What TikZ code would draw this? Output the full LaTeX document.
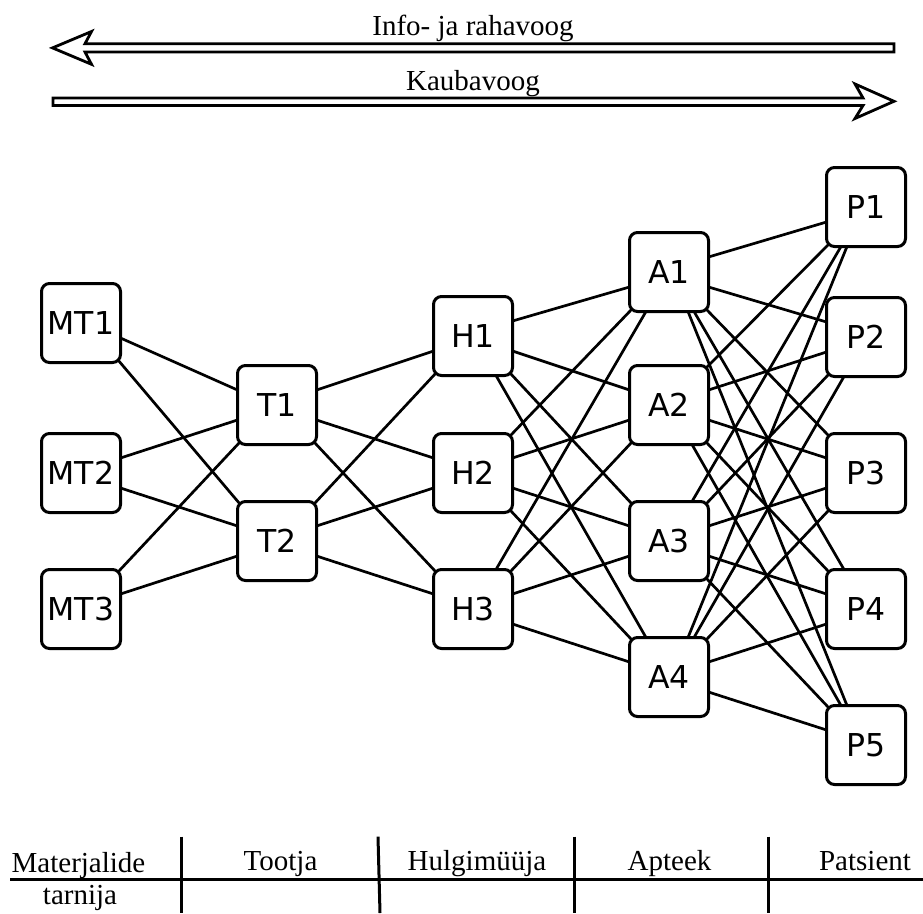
\documentclass[tikz,border=0pt]{standalone}
\usepackage{fontspec}
\setmainfont{Liberation Serif}
\newfontfamily\boxfont{DejaVu Sans}
\begin{document}
\begin{tikzpicture}[x=1pt,y=-1pt,
  box/.style={draw,line width=3pt,rounded corners=8pt,minimum width=79pt,minimum height=79pt,
    inner sep=0pt,outer sep=0pt,font=\boxfont\fontsize{31.5}{31.5}\selectfont},
  link/.style={line width=2.7pt},
  flow/.style={line width=2.8pt,line join=miter},
  lbl/.style={font=\fontsize{29}{29}\selectfont,anchor=base,inner sep=0pt},
  rule/.style={line width=3pt}]
\useasboundingbox (0,0) rectangle (923,913);
% nodes
\node[box] (MT1) at (81,323) {MT1};
\node[box] (MT2) at (81,473) {MT2};
\node[box] (MT3) at (81,609) {MT3};
\node[box] (T1) at (277,405) {T1};
\node[box] (T2) at (277,541) {T2};
\node[box] (H1) at (473,336) {H1};
\node[box] (H2) at (473,473) {H2};
\node[box] (H3) at (473,609) {H3};
\node[box] (A1) at (669,272) {A1};
\node[box] (A2) at (669,405) {A2};
\node[box] (A3) at (669,541) {A3};
\node[box] (A4) at (669,677) {A4};
\node[box] (P1) at (866,207) {P1};
\node[box] (P2) at (866,337) {P2};
\node[box] (P3) at (866,473) {P3};
\node[box] (P4) at (866,609) {P4};
\node[box] (P5) at (866,745) {P5};
% MT -> T
\draw[link] ([yshift=-15pt]MT1.east) -- ([yshift=15pt]T1.west);
\draw[link] ([xshift=-2.3pt,yshift=2.3pt]MT1.south east) -- ([xshift=2.3pt,yshift=-2.3pt]T2.north west);
\draw[link] ([yshift=15pt]MT2.east) -- ([yshift=-15pt]T1.west);
\draw[link] ([yshift=-15pt]MT2.east) -- ([yshift=15pt]T2.west);
\draw[link] ([xshift=-2.3pt,yshift=-2.3pt]MT3.north east) -- ([xshift=2.3pt,yshift=2.3pt]T1.south west);
\draw[link] ([yshift=15pt]MT3.east) -- ([yshift=-15pt]T2.west);
% T -> H
\draw[link] ([yshift=15pt]T1.east) -- ([yshift=-15pt]H1.west);
\draw[link] ([yshift=-15pt]T1.east) -- ([yshift=15pt]H2.west);
\draw[link] ([xshift=-2.3pt,yshift=2.3pt]T1.south east) -- ([xshift=2.3pt,yshift=-2.3pt]H3.north west);
\draw[link] ([xshift=-2.3pt,yshift=-2.3pt]T2.north east) -- ([xshift=2.3pt,yshift=2.3pt]H1.south west);
\draw[link] ([yshift=15pt]T2.east) -- ([yshift=-15pt]H2.west);
\draw[link] ([yshift=-15pt]T2.east) -- ([yshift=15pt]H3.west);
% H -> A
\draw[link] ([yshift=15pt]H1.east) -- ([yshift=-15pt]A1.west);
\draw[link] ([yshift=-15pt]H1.east) -- ([yshift=15pt]A2.west);
\draw[link] ([xshift=-2.3pt,yshift=2.3pt]H1.south east) -- ([xshift=2.3pt,yshift=-2.3pt]A3.north west);
\draw[link] ([xshift=23pt]H1.south) -- ([xshift=-23pt]A4.north);
\draw[link] ([xshift=-2.3pt,yshift=-2.3pt]H2.north east) -- ([xshift=2.3pt,yshift=2.3pt]A1.south west);
\draw[link] ([yshift=15pt]H2.east) -- ([yshift=-15pt]A2.west);
\draw[link] ([yshift=-15pt]H2.east) -- ([yshift=15pt]A3.west);
\draw[link] ([xshift=-2.3pt,yshift=2.3pt]H2.south east) -- ([xshift=2.3pt,yshift=-2.3pt]A4.north west);
\draw[link] ([xshift=23pt]H3.north) -- ([xshift=-23pt]A1.south);
\draw[link] ([xshift=-2.3pt,yshift=-2.3pt]H3.north east) -- ([xshift=2.3pt,yshift=2.3pt]A2.south west);
\draw[link] ([yshift=15pt]H3.east) -- ([yshift=-15pt]A3.west);
\draw[link] ([yshift=-15pt]H3.east) -- ([yshift=15pt]A4.west);
% A -> P
\draw[link] ([yshift=15pt]A1.east) -- ([yshift=-15pt]P1.west);
\draw[link] ([yshift=-15pt]A1.east) -- ([yshift=15pt]P2.west);
\draw[link] ([xshift=-2.3pt,yshift=2.3pt]A1.south east) -- ([xshift=2.3pt,yshift=-2.3pt]P3.north west);
\draw[link] ([xshift=25pt]A1.south) -- ([xshift=-22pt]P4.north);
\draw[link] ([xshift=19pt]A1.south) -- ([xshift=-19pt]P5.north);
\draw[link] ([xshift=-2.3pt,yshift=-2.3pt]A2.north east) -- ([xshift=2.3pt,yshift=2.3pt]P1.south west);
\draw[link] ([yshift=15pt]A2.east) -- ([yshift=-15pt]P2.west);
\draw[link] ([yshift=-15pt]A2.east) -- ([yshift=15pt]P3.west);
\draw[link] ([xshift=-2.3pt,yshift=2.3pt]A2.south east) -- ([xshift=2.3pt,yshift=-2.3pt]P4.north west);
\draw[link] ([xshift=23pt]A2.south) -- ([xshift=-25pt]P5.north);
\draw[link] ([xshift=23pt]A3.north) -- ([xshift=-25pt]P1.south);
\draw[link] ([xshift=-2.3pt,yshift=-2.3pt]A3.north east) -- ([xshift=2.3pt,yshift=2.3pt]P2.south west);
\draw[link] ([yshift=15pt]A3.east) -- ([yshift=-15pt]P3.west);
\draw[link] ([yshift=-15pt]A3.east) -- ([yshift=15pt]P4.west);
\draw[link] ([xshift=-2.3pt,yshift=2.3pt]A3.south east) -- ([xshift=2.3pt,yshift=-2.3pt]P5.north west);
\draw[link] ([xshift=19pt]A4.north) -- ([xshift=-19pt]P1.south);
\draw[link] ([xshift=25pt]A4.north) -- ([xshift=-22pt]P2.south);
\draw[link] ([xshift=-2.3pt,yshift=-2.3pt]A4.north east) -- ([xshift=2.3pt,yshift=2.3pt]P3.south west);
\draw[link] ([yshift=15pt]A4.east) -- ([yshift=-15pt]P4.west);
\draw[link] ([yshift=-15pt]A4.east) -- ([yshift=15pt]P5.west);
% flow arrows
\draw[flow] (52.5,47.9) -- (91.5,31.5) -- (85,43.7) -- (894,43.7) -- (894,52) -- (85,52) -- (91.5,64.3) -- cycle;
\draw[flow] (53,98) -- (863,98) -- (855,84) -- (894,101.3) -- (855,118.5) -- (863,105.5) -- (53,105.5) -- cycle;
\node[lbl] (info) at (473,35) {Info- ja rahavoog};
\node[lbl] (kaup) at (473,90) {Kaubavoog};
% table
\draw[rule] (10,879) -- (923,879);
\draw[rule] (181.7,836.7) -- (181.7,913);
\draw[rule] (378,836.7) -- (380,913);
\draw[rule] (574.3,836.7) -- (574.3,913);
\draw[rule] (768.3,836.7) -- (768.3,913);
\node[lbl] (mat) at (78.5,872) {Materjalide};
\node[lbl] (tar) at (80,904) {tarnija};
\node[lbl] (too) at (280.5,870) {Tootja};
\node[lbl] (hul) at (477,870) {Hulgimüüja};
\node[lbl] (apt) at (669.5,870) {Apteek};
\node[lbl] (pat) at (865,870) {Patsient};
\end{tikzpicture}
\end{document}
